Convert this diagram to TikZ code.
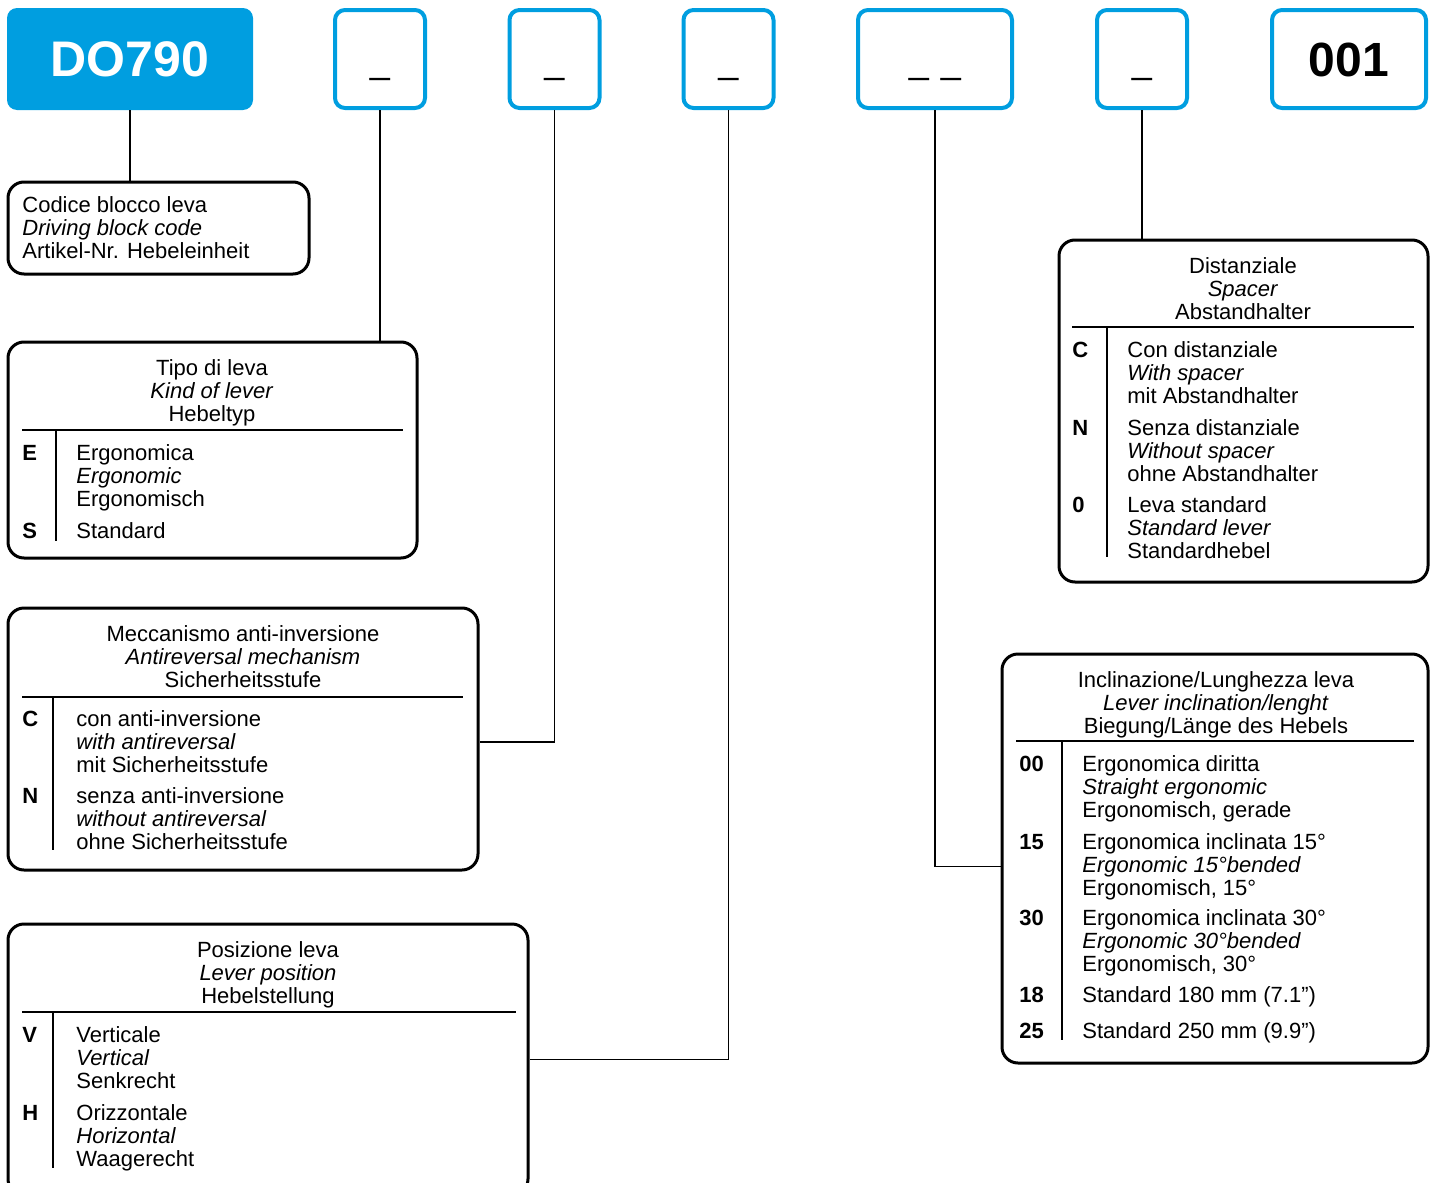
\documentclass[tikz,border=0pt]{standalone}
\usepackage{fontspec}
\setmainfont{Liberation Sans}
\definecolor{keyblue}{RGB}{0,158,224}

\begin{document}
\begin{tikzpicture}[x=0.5pt,y=-0.5pt, every node/.style={font=\fontsize{11}{11.6}\selectfont,inner sep=0pt}, slot/.style={draw=keyblue,line width=2pt,rounded corners=5pt,minimum width=45pt,minimum height=49pt,font=\fontsize{18}{18}\selectfont,text height=14pt,text depth=0pt}, infobox/.style={draw,line width=1.5pt,rounded corners=8pt}, ttl/.style={anchor=base,align=center}, txt/.style={anchor=base west,align=left}, code/.style={anchor=base west,font=\fontsize{11}{11.6}\selectfont\bfseries}, link/.style={line width=0.75pt}, divider/.style={line width=0.6pt}]
\useasboundingbox (0,0) rectangle (1436,1183);
\node[fill=keyblue,rounded corners=5pt,minimum width=123pt,minimum height=51pt,text=white,font=\fontsize{25}{25}\selectfont\bfseries] (b1) at (130,59) {DO790};
\node[slot] (b2) at (380,59) {\_};
\node[slot] (b3) at (554.5,59) {\_};
\node[slot] (b4) at (728.5,59) {\_};
\node[slot,minimum width=77pt] (b5) at (935,59) {\_\hspace{6pt}\_};
\node[slot] (b6) at (1142,59) {\_};
\node[slot,minimum width=77pt,font=\fontsize{24}{24}\selectfont\bfseries,text height=17pt] (b7) at (1349,59) {001};
\node[infobox,minimum width=150.5pt,minimum height=46pt] (cod) at (158.5,228) {};
\node[infobox,minimum width=204.5pt,minimum height=108pt] (typ) at (212.5,450) {};
\node[infobox,minimum width=235pt,minimum height=131pt] (mec) at (243,739) {};
\node[infobox,minimum width=260pt,minimum height=135.5pt] (pos) at (268,1059.5) {};
\node[infobox,minimum width=184.5pt,minimum height=171pt] (dis) at (1243.5,411) {};
\node[infobox,minimum width=213pt,minimum height=204.5pt] (inc) at (1215,858.5) {};
\draw[link] (b1.south) -- (b1.south |- cod.north);
\draw[link] (b2.south) -- (b2.south |- typ.north);
\draw[link] (b3.south) |- ([yshift=-1.5pt]mec.east);
\draw[link] (b4.south) |- (pos.east);
\draw[link] (b5.south) |- ([yshift=-4pt]inc.west);
\draw[link] (b6.south) -- (b6.south |- dis.north);
\node[txt] (codt) at (22,258.4) {Codice blocco leva\\\textit{Driving block code}\\Artikel-Nr. Hebeleinheit};
\node[ttl] (typt) at (212,421.4) {Tipo di leva\\\textit{Kind of lever}\\Hebeltyp};
\draw[divider] (22,430) -- (403,430) (56,430) -- (56,541);
\node[code] (typE) at (22,460) {E};
\node[txt] (typEt) at (76,506.4) {Ergonomica\\\textit{Ergonomic}\\Ergonomisch};
\node[code] (typS) at (22,538) {S};
\node[txt] (typSt) at (76,538) {Standard};
\node[ttl] (mect) at (243,687.4) {Meccanismo anti-inversione\\\textit{Antireversal mechanism}\\Sicherheitsstufe};
\draw[divider] (22,697) -- (463,697) (53,697) -- (53,850);
\node[code] (mecC) at (22,726) {C};
\node[txt] (mecCt) at (76,772.4) {con anti-inversione\\\textit{with antireversal}\\mit Sicherheitsstufe};
\node[code] (mecN) at (22,803) {N};
\node[txt] (mecNt) at (76,849.4) {senza anti-inversione\\\textit{without antireversal}\\ohne Sicherheitsstufe};
\node[ttl] (post) at (268,1003.4) {Posizione leva\\\textit{Lever position}\\Hebelstellung};
\draw[divider] (22,1012) -- (516,1012) (53,1012) -- (53,1168);
\node[code] (posV) at (22,1042) {V};
\node[txt] (posVt) at (76,1088.4) {Verticale\\\textit{Vertical}\\Senkrecht};
\node[code] (posH) at (22,1120) {H};
\node[txt] (posHt) at (76,1166.4) {Orizzontale\\\textit{Horizontal}\\Waagerecht};
\node[ttl] (dist) at (1243,319.4) {Distanziale\\\textit{Spacer}\\Abstandhalter};
\draw[divider] (1072,327) -- (1414,327) (1107,327) -- (1107,557);
\node[code] (disC) at (1072,357) {C};
\node[txt] (disCt) at (1127,403.4) {Con distanziale\\\textit{With spacer}\\mit Abstandhalter};
\node[code] (disN) at (1072,435) {N};
\node[txt] (disNt) at (1127,481.4) {Senza distanziale\\\textit{Without spacer}\\ohne Abstandhalter};
\node[code] (dis0) at (1072,512) {0};
\node[txt] (dis0t) at (1127,558.4) {Leva standard\\\textit{Standard lever}\\Standardhebel};
\node[ttl] (inct) at (1216,733.4) {Inclinazione/Lunghezza leva\\\textit{Lever inclination/lenght}\\Biegung/Länge des Hebels};
\draw[divider] (1016,741) -- (1414,741) (1062,741) -- (1062,1040);
\node[code] (inc00) at (1019,771) {00};
\node[txt] (inc00t) at (1082,817.4) {Ergonomica diritta\\\textit{Straight ergonomic}\\Ergonomisch, gerade};
\node[code] (inc15) at (1019,849) {15};
\node[txt] (inc15t) at (1082,895.4) {Ergonomica inclinata 15°\\\textit{Ergonomic 15°bended}\\Ergonomisch, 15°};
\node[code] (inc30) at (1019,925) {30};
\node[txt] (inc30t) at (1082,971.4) {Ergonomica inclinata 30°\\\textit{Ergonomic 30°bended}\\Ergonomisch, 30°};
\node[code] (inc18) at (1019,1002) {18};
\node[txt] (inc18t) at (1082,1002) {Standard 180 mm (7.1”)};
\node[code] (inc25) at (1019,1038) {25};
\node[txt] (inc25t) at (1082,1038) {Standard 250 mm (9.9”)};
\end{tikzpicture}
\end{document}
